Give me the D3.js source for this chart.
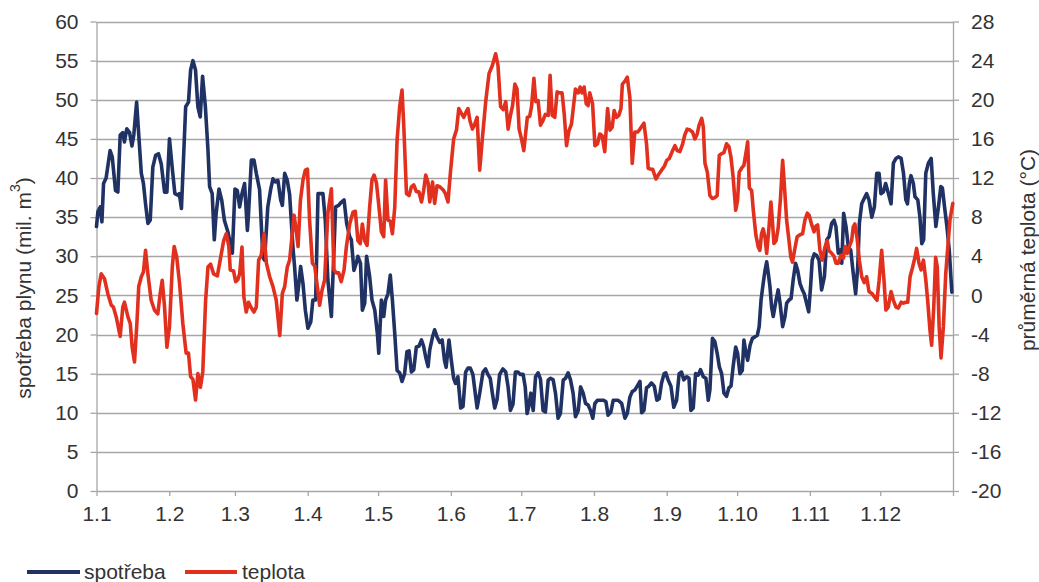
<!DOCTYPE html>
<html>
<head>
<meta charset="utf-8">
<script src="https://cdn.jsdelivr.net/npm/d3@7"></script>
<style>
  html, body { margin: 0; padding: 0; background: #ffffff; }
  svg { display: block; }
  text { font-family: "Liberation Sans", Arial, Helvetica, sans-serif; fill: #333333; }
</style>
</head>
<body>
<svg id="chart" width="1039" height="582"></svg>
<script>
// ---------- DATA ----------
const monthLabels = ["1.1","1.2","1.3","1.4","1.5","1.6","1.7","1.8","1.9","1.10","1.11","1.12"];
const monthStartDays = [0,31,59,90,120,151,181,212,243,273,304,334];
const yearEndDay = 365;
const leftTicks = [0,5,10,15,20,25,30,35,40,45,50,55,60];
const rightTicks = [-20,-16,-12,-8,-4,0,4,8,12,16,20,24,28];
const seriesNames = ["spotřeba", "teplota"];

// spotřeba plynu (mil. m3) – day of year and value
const spotrebaDays = [0,0.6,1.6,2.3,3,4.1,5.8,6.7,8.1,9.1,10.1,11.2,11.9,12.9,14.1,15.1,15.9,17.1,18,19.1,20,20.9,21.9,22.9,24,25.2,26.4,27.6,29,30,31.1,32.3,33.4,34.7,35.3,36.2,38,39.2,40.1,41.1,42.2,43.2,44.2,45.2,46.4,47.5,48.2,49.3,50.2,51,52.2,53.4,54.5,56,57.9,59,60,61,62,63.1,64.3,64.8,66,67.1,68.1,69.5,70.9,71.6,73,74.2,75.2,76.2,77.3,78.5,79.2,80.2,81.3,82.3,83.7,84.4,85.4,86.1,87,88,89,90.1,91.3,92.2,93.4,94.4,95.5,96.5,97.5,98.6,100.1,101.2,101.9,103.2,104.3,105.5,106.6,107.9,108.6,109.7,110.7,111.4,112.5,113.3,114.3,115.1,116.4,117.4,118.6,119.7,120.3,121.4,122.4,123.2,124.2,125.2,126.1,127.1,128.1,129.2,130.2,131.3,132.3,133.2,134.2,135.2,136.3,137.4,138.5,139.4,140.3,141.3,142,143.2,144.1,145.1,146.3,147.3,148.3,149,150.2,151.2,152.2,153,154,155.2,156.2,157.3,158.3,159.3,160.4,161.4,162.2,163.3,164.7,165.8,166.8,167.8,168.7,169.7,170.7,171.8,173.2,174.4,175.4,176.4,177.5,178.5,179.6,180.6,181.8,182.7,183.5,184.2,185.1,186.1,187.1,188.2,189.2,190.3,191.3,192.5,193.5,194.6,195.6,196.7,197.7,198.9,199.9,201,202,203.1,204.1,205.3,206.3,207.4,208.4,209.5,210.5,211.5,212.4,213.5,214.9,216.1,217.1,218,219.2,220.2,221.2,222.3,223.8,225.2,226.2,227.3,228.3,229.4,230.6,231.6,232.3,233.3,234.4,235.4,236.5,237.7,238.8,239.8,240.8,241.9,242.6,243.6,244.8,246,247.2,248.3,249.3,250.3,251.5,252.5,253.3,254.3,255.3,256.4,257.4,258.6,259.7,260.7,261.4,262.5,263.5,264.5,265.4,266.4,267.4,268.5,269.5,270.4,271.3,272.4,273.2,274.2,275.2,275.9,276.8,277.5,278.5,279.5,280.6,281.6,282.4,283.2,284.1,284.9,285.6,286.3,287,287.7,288.4,289.6,290.5,291.3,292.4,293.4,294.1,295.1,296,296.9,297.9,298.8,299.8,300.8,301.6,302.6,303.5,304.3,305,305.9,306.9,307.9,309,310.2,311.2,312.2,313.3,314.3,315.1,316.1,317.1,317.6,318.4,319.4,320.4,321.4,322.5,323.5,324.4,325.1,326.1,327.2,328.2,329.2,330.4,331.5,332.5,333.5,334.3,335.3,336.3,337.5,338.6,339.6,340.7,341.7,342.9,343.9,344.9,345.6,346.4,347.1,348.1,348.8,350,350.9,351.7,352.5,353.4,354.5,355.7,356.6,357.7,358.8,359.8,360.5,361.4,362.4,363.4,364.5];
const spotrebaValues = [33.8,35.7,36.3,34.4,39.3,40,43.5,42.7,38.4,38.2,45.5,45.8,44.6,46.3,45.8,44.1,45.5,49.7,45.5,40.6,39.3,36.7,34.2,34.6,41.4,42.9,43.1,41.8,38.2,38.2,45,41.2,38,37.8,38,36.1,49.1,49.7,53.8,55,53.8,49.1,47.8,53,49.1,43.6,38.9,38,32.1,35.5,38.6,37.1,34.6,33.1,30.4,38.6,38.4,36.3,38,39.3,33.3,35.5,42.3,42.3,40.6,38.5,29.9,29.5,36.3,38.5,39.9,39.5,39.7,37.2,36.5,40.6,39.7,37.9,31.2,28.7,24.4,26.1,28.7,26.5,23.1,20.8,21.6,24.4,24.4,38,38,38,34.6,27,22.3,30.8,36.3,36.5,36.9,37.2,34.2,32.5,32.1,28.2,29.1,30,29.1,23.1,24,30,27.4,24.4,23.1,20.1,17.6,24.4,22.3,24.4,25.2,27.6,24.4,20.1,15.4,15.1,14,15,17.8,17.9,15.2,15.5,18.4,18.5,19.3,18.5,17.1,15.9,18,19.7,20.6,19.7,19,19.3,16.7,15.8,19.3,16.7,14.4,13.75,14.6,10.6,10.8,15.2,15.7,15.7,14.9,12.5,10.6,12.5,15.2,15.6,14.9,14.4,12.5,10.6,11.7,14.9,15.6,15.2,13.3,10.3,11.1,15.2,15.2,14.9,14.9,13.3,9.9,10.8,12.5,10.3,14.6,15.1,14.3,10.3,10.1,14.2,14.4,14.2,12.5,9.3,9.9,14.2,14.4,15.1,14.2,12.5,9.5,10.3,13.3,12.5,11.2,11,10.3,9.3,11.2,11.6,11.6,11.6,11.4,9.7,10.1,11.6,11.6,11.6,11.2,9.3,9.9,12,12.7,12.9,13.5,14,10,10.3,13.2,13.4,13.8,13.4,11.6,11.8,13.8,15,15.1,14.2,13.4,10.7,11.6,15,15.2,14.2,14.6,14.4,10.3,10.6,15,14.8,15.5,14.6,14.4,11.6,12.9,19.5,19.1,17.6,15.9,15,12.5,12.1,13.2,13.4,15.9,18.4,17.6,15,15.4,19.3,17.6,16.7,18.6,19.5,19.7,19.9,21,24.4,26.5,28.2,29.3,27.8,26.1,23.5,22.3,24.4,25.7,24,21,22.3,24,24.4,24.6,27,29.1,28.2,26.5,25.7,25.2,24,22.9,26.1,29.5,30.3,30.1,29.5,25.7,27.4,32.1,32.5,34.2,34.6,33.8,30.4,30.8,29.1,35.5,33.8,31.2,30.8,27.8,25.2,28.6,34.2,36.7,37.4,38,37.2,35,36.3,40.6,40.6,38,38.2,39.3,38,36.7,41.9,42.5,42.7,42.5,40.6,37.2,36.7,39.3,40.3,39.3,37.6,37.2,35,31.6,32.1,40.6,41.9,42.5,38,33.8,36.3,38.9,38.7,36.3,33.8,30.8,25.4];

// průměrná teplota (°C) – day of year and value
const teplotaDays = [0,1,2,3.4,4.8,6.3,7.2,8.4,10.1,11.2,11.9,13.4,14.4,15.2,16.2,17.2,18,19.1,20,20.9,21.9,23.3,24.7,26.1,27.2,28,29,30,31.1,32.3,33.1,34.2,35.4,36.8,38.2,39.2,40.1,41.1,42.2,43.2,44.3,45.3,46.5,47.5,48.6,49.9,51.5,52.7,54.2,55.3,56.4,57,58.4,59.3,60.2,61,62,62.8,63.8,64.8,66,67.1,68.1,69.1,70.2,71.4,72.4,73.8,75.2,76.6,78.1,79.2,80.2,81.3,82.3,83.3,84.2,84.9,85.9,86.9,88,89,89.9,90.8,92,93,94.1,95.1,96.1,97.2,98.6,100.1,101.2,102.2,103.2,104.3,105.5,106.5,107.9,109.3,110.3,111.4,112.4,113.3,114.3,115.3,116.4,117.4,118.3,119.3,120.3,121.4,122.4,123.2,124.2,125.2,126.1,127.1,128.1,129.2,130.2,130.9,132.1,133.2,134.2,135.2,136.3,137.4,138.5,139.4,140.3,141.3,142,143.2,144.1,145.1,146.3,147.7,148.7,149.8,150.8,152.2,153.4,154.4,155.5,156.5,157.6,158.3,159.1,160.2,161.2,162.2,163.3,164.5,165.9,167.3,168.7,170.1,171.1,172.2,173.3,174.4,175.4,176.4,177.3,178.3,179.2,180.1,181.1,182.1,183.6,184.6,185.4,186.4,187.2,188.2,189.2,190.3,191.3,192.5,193.3,194.2,195.3,196.3,197.4,198.4,199.3,200.3,201.3,202.4,203.4,204.1,205.3,206.1,206.9,207.8,208.7,209.5,210.2,211.4,212.4,213.5,214.5,215.5,216.6,217.8,218.8,219.8,220.6,221.6,222.6,223.5,224.1,225.2,226.2,227.3,228.3,229.4,230.6,231.6,233.3,234.4,235.1,236.1,237,238.4,239.4,240.8,242,243,244.1,245.5,246.5,247.5,248.6,249.8,250.7,251.7,252.9,254,255,256,256.8,257.9,258.6,259.3,260.3,261.4,262.5,263.5,264.5,265.4,266.4,267.4,268.5,269.5,270.4,271.3,272.4,273.2,273.9,274.9,275.9,277,277.5,278.2,279.2,279.9,281,282,282.7,283.4,284.1,284.9,285.6,286.6,287.4,288.1,288.7,289.6,290.5,291.5,292.4,293.1,294.1,295.1,295.9,296.6,297.7,298.6,299.8,300.9,301.9,302.9,303.7,304.8,305.8,306.6,307.3,308.3,309.3,310.4,311.4,312.1,313.3,314.3,315.1,316.1,317.2,318.3,319,320,320.8,321.8,322.5,323.2,324.1,325.1,326.1,327.2,328.2,329.2,330.4,331.5,332.6,333.5,334.6,335.6,336.4,337.4,338.6,339.6,340.7,341.7,342.9,343.9,344.9,345.7,346.7,347.7,348.8,349.5,350.5,351.4,352.4,353.4,354.2,355.2,355.9,356.8,357.6,358.3,359.1,359.9,360.9,361.9,363,363.7,364.9];
const teplotaValues = [-1.85,0.87,2.2,1.7,0.2,-1,-1.2,-2.2,-4.2,-1.2,-0.7,-2.2,-2.9,-5.3,-6.8,-2.9,0.9,1.9,2.4,4.6,2.2,-0.5,-1.5,-1.9,0.3,1.55,-1.2,-5.3,-3.2,2.9,5,3.9,1.2,-2.9,-5.9,-5.9,-8.3,-8.6,-10.7,-8,-9.4,-7.8,-0.5,2.9,3.2,2.2,2,3.6,5.6,6.3,5,2.6,2.5,1.4,1.6,2.2,4.95,-0.15,-1.7,-0.7,-1.3,-1.7,-1.2,3.6,4.1,6.3,3.3,1.9,0.9,-0.5,-4.1,0.2,0.9,2.9,3.6,6,8.2,7,5,9.7,11.8,12.8,12.9,7.7,3.3,3,0.9,-1,0.5,1.55,8.4,10.9,2.6,2.3,2.3,1.4,2.6,5,7.3,8.5,8.6,5.6,5.3,7.3,5.6,5.1,9,11.8,12.3,11.5,9.2,6.5,6,11.8,7.7,7.6,6.3,9,15.9,19.3,21,17.6,10.4,10.2,11.1,11.3,10.6,10.6,9.55,10.7,12.3,11.5,9.55,11.6,9.4,11.2,11.1,10.8,10.4,9.55,12.5,16,16.9,19.1,18.6,18.2,18.8,19.1,17.9,17,17.5,18.2,12.8,16.2,19.9,22.7,23.5,24.7,23.5,19.3,19,19.8,17,18.4,19.4,21.6,21.1,17,16,14.8,18.2,18.3,19.3,22.2,19.8,19.9,17.4,17.9,18.5,18.4,22.5,18.4,18.2,20.8,20.7,20.7,18.6,15.3,16.8,17.5,19.6,21.1,20.7,21.3,20.7,21.3,19.6,19.4,20.7,19.6,15.3,15.5,16.5,16.3,14.7,19.1,16.9,17.2,18.9,18.2,18.4,19.1,21.6,21.9,22.3,20.2,13.5,16.7,16.7,17,17.6,15.5,13,12.9,12.9,11.9,12.3,12.8,13.2,13.8,14,14.8,15.3,14.8,14.7,15.5,16.4,17,16.9,16.7,16,16.5,17.4,18.1,17.2,13.5,12.6,10.2,9.9,10,10.2,14.3,14.5,14.6,15.5,15.2,14.1,12.1,8.7,9.7,12.6,13,13.3,14.9,15.7,11,10.7,8.7,6.15,4.95,4.6,6.3,6.8,5.9,4.3,7,9.55,7.4,5.3,5.6,6.9,10,13.8,11.4,7.7,5.6,3.9,3.4,4.9,6,6.2,6.3,7.7,8.4,8.2,7.2,6.5,7.1,7.2,4.6,3.6,4.9,5.6,4.6,4.3,4,3.3,3.3,4.1,3.8,5,4.3,5,5.6,7,7.3,5.9,3.6,1.9,1.3,1.9,0.4,0.2,-0.15,-0.5,1.5,4.6,1.5,-1.5,-1.2,0.4,-0.5,-1.2,-1.3,-0.7,-0.8,-0.7,-0.7,1.9,2.8,3.9,4.8,3.3,2.6,3.6,1.6,-0.5,-3.6,-5.1,-1.2,3.9,2.9,-3.2,-6.4,-3.2,2.2,5.6,7.7,9.4];

// ---------- CHART ----------
const plot = { left: 96.5, right: 953, top: 21.5, bottom: 491 };
const colors = { spotreba: "#1f3263", teplota: "#e2301f", grid: "#a6a6a6", text: "#303030" };
const font = "21px";

const svg = d3.select("#chart");

const x = d3.scaleLinear().domain([0, yearEndDay]).range([plot.left, plot.right]);
const yL = d3.scaleLinear().domain([0, 60]).range([plot.bottom, plot.top]);
const yR = d3.scaleLinear().domain([-20, 28]).range([plot.bottom, plot.top]);

// gridlines
svg.append("g")
  .selectAll("line")
  .data(leftTicks.filter(d => d !== 0))
  .join("line")
  .attr("x1", plot.left).attr("x2", plot.right)
  .attr("y1", d => Math.round(yL(d)) + 0.5).attr("y2", d => Math.round(yL(d)) + 0.5)
  .attr("stroke", colors.grid).attr("stroke-width", 1.3);

function styleAxis(g) {
  g.selectAll(".domain").attr("stroke", colors.grid).attr("stroke-width", 1.3);
  g.selectAll(".tick line").attr("stroke", colors.grid).attr("stroke-width", 1.3);
  g.selectAll(".tick text").attr("fill", colors.text).style("font-size", font)
    .style("font-family", '"Liberation Sans", Arial, sans-serif');
}

const numFmt = d => String(d); // plain hyphen-minus like the original

// left axis
svg.append("g")
  .attr("transform", `translate(${plot.left},0)`)
  .call(d3.axisLeft(yL).tickValues(leftTicks).tickFormat(numFmt).tickSize(6).tickSizeOuter(0).tickPadding(12))
  .call(styleAxis);

// right axis
svg.append("g")
  .attr("transform", `translate(${plot.right},0)`)
  .call(d3.axisRight(yR).tickValues(rightTicks).tickFormat(numFmt).tickSize(6).tickSizeOuter(0).tickPadding(12))
  .call(styleAxis);

// bottom axis
const xTickValues = monthStartDays.concat([yearEndDay]);
svg.append("g")
  .attr("transform", `translate(0,${plot.bottom})`)
  .call(d3.axisBottom(x).tickValues(xTickValues).tickSize(5).tickSizeOuter(0).tickPadding(10)
    .tickFormat((d, i) => i < monthLabels.length ? monthLabels[i] : ""))
  .call(styleAxis);

// lines
const spotrebaData = spotrebaDays.map((d, i) => ({ day: d, value: spotrebaValues[i] }));
const teplotaData = teplotaDays.map((d, i) => ({ day: d, value: teplotaValues[i] }));

const lineL = d3.line().x(d => x(d.day)).y(d => yL(d.value));
const lineR = d3.line().x(d => x(d.day)).y(d => yR(d.value));

svg.append("path").datum(spotrebaData)
  .attr("d", lineL).attr("fill", "none").attr("stroke", colors.spotreba)
  .attr("stroke-width", 3.6).attr("stroke-linejoin", "round").attr("stroke-linecap", "round");

svg.append("path").datum(teplotaData)
  .attr("d", lineR).attr("fill", "none").attr("stroke", colors.teplota)
  .attr("stroke-width", 3.6).attr("stroke-linejoin", "round").attr("stroke-linecap", "round");

// axis titles
const lt = svg.append("text")
  .attr("transform", "translate(23,288) rotate(-90)")
  .attr("text-anchor", "middle").attr("dominant-baseline", "central")
  .style("font-size", font).attr("fill", colors.text);
lt.append("tspan").text("spotřeba plynu (mil. m");
lt.append("tspan").text("3").style("font-size", "14px").attr("baseline-shift", "super");
lt.append("tspan").text(")");

svg.append("text")
  .attr("transform", "translate(1027,250) rotate(-90)")
  .attr("text-anchor", "middle").attr("dominant-baseline", "central")
  .style("font-size", font).attr("fill", colors.text)
  .text("průměrná teplota (°C)");

// legend
const legend = [
  { name: seriesNames[0], color: colors.spotreba, x1: 27, x2: 80, tx: 84 },
  { name: seriesNames[1], color: colors.teplota, x1: 185, x2: 237, tx: 242 }
];
const lg = svg.append("g");
legend.forEach(l => {
  lg.append("line").attr("x1", l.x1).attr("x2", l.x2).attr("y1", 572).attr("y2", 572)
    .attr("stroke", l.color).attr("stroke-width", 4);
  lg.append("text").attr("x", l.tx).attr("y", 578.5).style("font-size", font)
    .attr("fill", colors.text).text(l.name);
});
</script>
</body>
</html>
